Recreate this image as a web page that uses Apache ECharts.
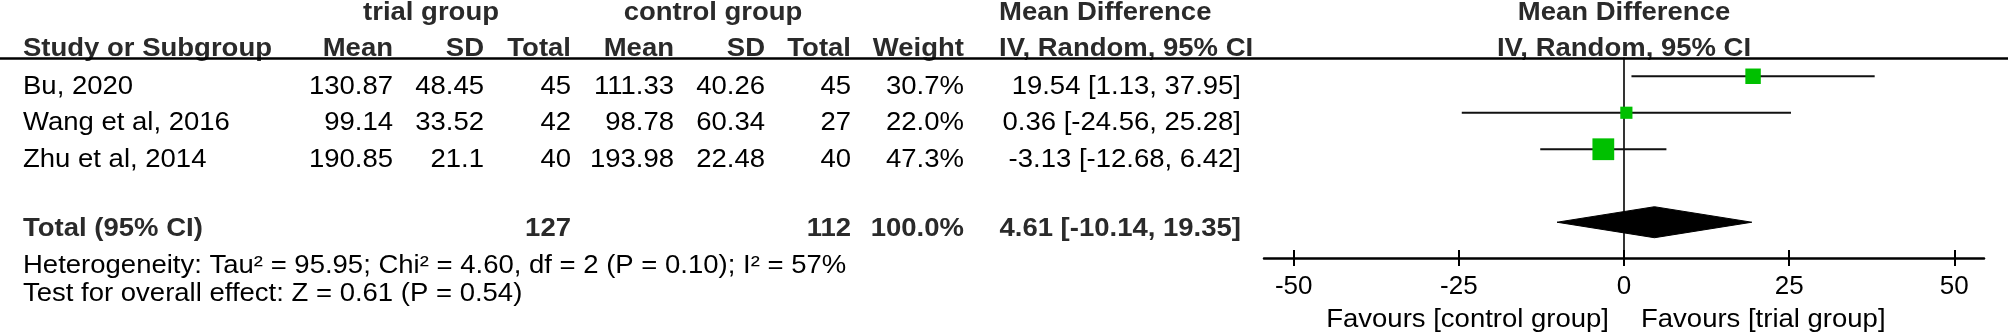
<!DOCTYPE html>
<html><head><meta charset="utf-8">
<script src="https://cdn.jsdelivr.net/npm/echarts@6/dist/echarts.min.js"></script>
<style>html,body{margin:0;padding:0;background:#fff}#c{width:2008px;height:335px}</style>
</head><body><div id="c"></div>
<script>
// ---------------- data ----------------
const studies   = ['Bu, 2020', 'Wang et al, 2016', 'Zhu et al, 2014'];
const trialMean = [130.87, 99.14, 190.85];
const trialSD   = [48.45, 33.52, 21.1];
const trialN    = [45, 42, 40];
const ctrlMean  = [111.33, 98.78, 193.98];
const ctrlSD    = [40.26, 60.34, 22.48];
const ctrlN     = [45, 27, 40];
const weights   = [30.7, 22.0, 47.3];
const md        = [19.54, 0.36, -3.13];
const ciLow     = [1.13, -24.56, -12.68];
const ciHigh    = [37.95, 25.28, 6.42];
const totalTrialN = 127;
const totalCtrlN  = 112;
const totalWeight = 100.0;
const totalMD   = 4.61;
const totalLow  = -10.14;
const totalHigh = 19.35;
const xTicks    = [-50, -25, 0, 25, 50];
const heterogeneityText = 'Heterogeneity: Tau\u00B2 = 95.95; Chi\u00B2 = 4.60, df = 2 (P = 0.10); I\u00B2 = 57%';
const overallText = 'Test for overall effect: Z = 0.61 (P = 0.54)';
const favoursLeft = 'Favours [control group]';
const favoursRight = 'Favours [trial group]';

// ---------------- layout ----------------
const ROWS = [0, 1, 2];
const TOTAL_ROW = 4;
const FF = '"Liberation Sans", Arial, Helvetica, sans-serif';
const FS = 25;
const SX = 1.1;
const REG = FS + 'px ' + FF;
const BOLD = 'bold ' + FS + 'px ' + FF;
const BOLD_COLOR = '#2a2a2a';
const COL = {study: 23, tMean: 393, tSD: 484, tN: 571, cMean: 674, cSD: 765, cN: 851, weight: 964, ci: 1241, mdLeft: 999};

function txt(x, y, s, align, bold) {
  return {
    type: 'text', x: x, y: y, scaleX: SX, scaleY: 1, originX: 0, originY: 0,
    silent: true,
    style: {
      text: s, x: 0, y: 0, font: bold ? BOLD : REG, fill: bold ? BOLD_COLOR : '#000',
      align: align, verticalAlign: 'middle', textAlign: align, textVerticalAlign: 'middle'
    }
  };
}
const fmt2 = v => v.toFixed(2);
const fmtCI = (m, l, h) => fmt2(m) + ' [' + fmt2(l) + ', ' + fmt2(h) + ']';

const chart = echarts.init(document.getElementById('c'), null, {renderer: 'canvas'});

const tableData = studies.map((s, i) => [0, ROWS[i], i]).concat([[0, TOTAL_ROW, -1]]);

chart.setOption({
  animation: false,
  backgroundColor: '#fff',
  grid: {left: 1264, right: 24, top: 58, bottom: 77, containLabel: false, outerBoundsMode: 'none'},
  xAxis: [{
    type: 'value', min: -54.5, max: 54.5, position: 'bottom',
    axisLine: {show: true, onZero: false, lineStyle: {color: '#000', width: 2.5}},
    axisTick: {show: true, length: 8, customValues: xTicks, lineStyle: {color: '#000', width: 2}},
    axisLabel: {show: true, customValues: xTicks, margin: 16, fontSize: 26, fontFamily: FF, color: '#000'},
    splitLine: {show: false}
  }, {
    type: 'value', min: -54.5, max: 54.5, position: 'bottom',
    axisLine: {show: false, onZero: false},
    axisTick: {show: true, inside: true, length: 8, customValues: xTicks, lineStyle: {color: '#000', width: 2}},
    axisLabel: {show: false},
    splitLine: {show: false}
  }],
  yAxis: {
    type: 'value', min: -0.5, max: 4.98, inverse: true,
    axisLine: {show: true, onZero: true, lineStyle: {color: '#000', width: 1.6}},
    axisTick: {show: false}, axisLabel: {show: false}, splitLine: {show: false}
  },
  graphic: [
    {type: 'line', silent: true, shape: {x1: 0, y1: 58.5, x2: 2008, y2: 58.5}, style: {stroke: '#000', lineWidth: 2.5}, z: 10},
    txt(431, 13, 'trial group', 'center', true),
    txt(713, 13, 'control group', 'center', true),
    txt(COL.mdLeft, 13, 'Mean Difference', 'left', true),
    txt(COL.study, 49, 'Study or Subgroup', 'left', true),
    txt(COL.tMean, 49, 'Mean', 'right', true),
    txt(COL.tSD, 49, 'SD', 'right', true),
    txt(COL.tN, 49, 'Total', 'right', true),
    txt(COL.cMean, 49, 'Mean', 'right', true),
    txt(COL.cSD, 49, 'SD', 'right', true),
    txt(COL.cN, 49, 'Total', 'right', true),
    txt(COL.weight, 49, 'Weight', 'right', true),
    txt(COL.mdLeft, 49, 'IV, Random, 95% CI', 'left', true),
    txt(COL.study, 266, heterogeneityText, 'left', false),
    txt(COL.study, 294, overallText, 'left', false)
  ],
  series: [
    { // table rows
      type: 'custom', clip: false, silent: true, xAxisIndex: 0, yAxisIndex: 0,
      data: tableData,
      encode: {x: 0, y: 1},
      renderItem: function (params, api) {
        const row = api.value(1);
        const i = api.value(2);
        const yPix = api.coord([0, row])[1];
        const children = [];
        if (i >= 0) {
          const y = yPix + 10.5;
          children.push(txt(COL.study, y, studies[i], 'left', false));
          children.push(txt(COL.tMean, y, String(trialMean[i]), 'right', false));
          children.push(txt(COL.tSD, y, String(trialSD[i]), 'right', false));
          children.push(txt(COL.tN, y, String(trialN[i]), 'right', false));
          children.push(txt(COL.cMean, y, String(ctrlMean[i]), 'right', false));
          children.push(txt(COL.cSD, y, String(ctrlSD[i]), 'right', false));
          children.push(txt(COL.cN, y, String(ctrlN[i]), 'right', false));
          children.push(txt(COL.weight, y, weights[i].toFixed(1) + '%', 'right', false));
          children.push(txt(COL.ci, y, fmtCI(md[i], ciLow[i], ciHigh[i]), 'right', false));
        } else {
          const y = yPix + 7;
          children.push(txt(COL.study, y, 'Total (95% CI)', 'left', true));
          children.push(txt(COL.tN, y, String(totalTrialN), 'right', true));
          children.push(txt(COL.cN, y, String(totalCtrlN), 'right', true));
          children.push(txt(COL.weight, y, totalWeight.toFixed(1) + '%', 'right', true));
          children.push(txt(COL.ci, y, fmtCI(totalMD, totalLow, totalHigh), 'right', true));
        }
        return {type: 'group', children: children};
      }
    },
    { // plot headers and favours labels, anchored at zero
      type: 'custom', clip: false, silent: true,
      data: [[0, 4.98]],
      encode: {x: 0, y: 1},
      renderItem: function (params, api) {
        const p = api.coord([0, api.value(1)]);
        const x0 = p[0];
        return {type: 'group', children: [
          txt(x0, 13, 'Mean Difference', 'center', true),
          txt(x0, 49, 'IV, Random, 95% CI', 'center', true),
          txt(x0 - 15, p[1] + 62, favoursLeft, 'right', false),
          txt(x0 + 17, p[1] + 62, favoursRight, 'left', false)
        ]};
      }
    },
    { // confidence intervals
      type: 'custom', clip: false, silent: true,
      data: ciLow.map((l, i) => [l, ciHigh[i], ROWS[i]]),
      encode: {x: [0, 1], y: 2},
      renderItem: function (params, api) {
        const a = api.coord([api.value(0), api.value(2)]);
        const b = api.coord([api.value(1), api.value(2)]);
        return {type: 'line', shape: {x1: a[0], y1: a[1], x2: b[0], y2: b[1]},
                style: {stroke: '#111', lineWidth: 2.2}};
      },
      z: 3
    },
    { // study point estimates
      type: 'scatter', silent: true,
      symbol: 'rect',
      symbolSize: function (v, p) { return 3.8 + 0.38 * weights[p.dataIndex]; },
      data: md.map((m, i) => [m, ROWS[i]]),
      itemStyle: {color: '#00c000', opacity: 1},
      z: 5
    },
    { // pooled diamond
      type: 'custom', clip: false, silent: true,
      data: [[totalLow, totalMD, totalHigh, TOTAL_ROW]],
      encode: {x: [0, 1, 2], y: 3},
      renderItem: function (params, api) {
        const r = api.value(3);
        const l = api.coord([api.value(0), r]);
        const m = api.coord([api.value(1), r]);
        const h = api.coord([api.value(2), r]);
        const hh = 15.5;
        return {type: 'polygon', shape: {points: [[l[0], l[1]], [m[0], m[1] - hh], [h[0], h[1]], [m[0], m[1] + hh]]},
                style: {fill: '#000', stroke: '#000', lineWidth: 1}};
      },
      z: 4
    }
  ]
});
</script>
</body></html>
